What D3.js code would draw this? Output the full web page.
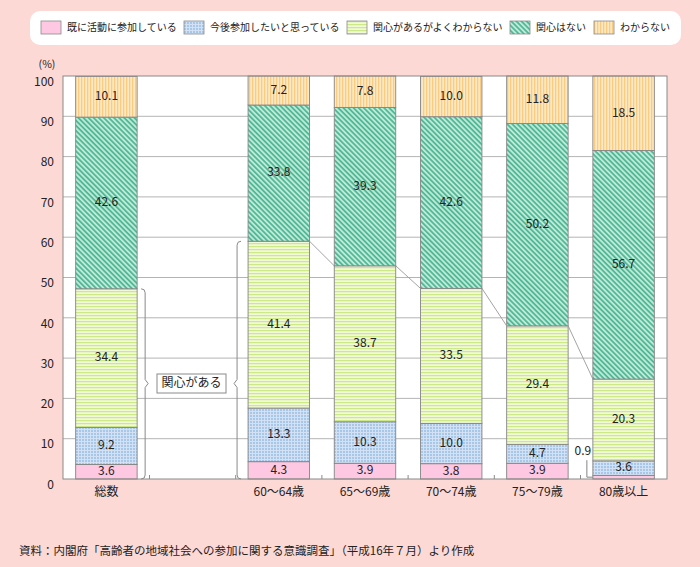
<!DOCTYPE html>
<html><head><meta charset="utf-8">
<script src="https://cdn.jsdelivr.net/npm/d3@7/dist/d3.min.js"></script>
<style>
html,body{margin:0;padding:0;background:#fdd9d6;}
svg{display:block;font-family:"Noto Sans CJK JP","Noto Sans",sans-serif;}
</style></head>
<body>
<svg id="chart" width="700" height="567"></svg>
<script>
// ---- data ----
const categories = ["総数", "60～64歳", "65～69歳", "70～74歳", "75～79歳", "80歳以上"];
const seriesNames = ["既に活動に参加している", "今後参加したいと思っている", "関心があるがよくわからない", "関心はない", "わからない"];
const sActive   = [3.6, 4.3, 3.9, 3.8, 3.9, 0.9];
const sWant     = [9.2, 13.3, 10.3, 10.0, 4.7, 3.6];
const sUnsure   = [34.4, 41.4, 38.7, 33.5, 29.4, 20.3];
const sNoInt    = [42.6, 33.8, 39.3, 42.6, 50.2, 56.7];
const sDontKnow = [10.1, 7.2, 7.8, 10.0, 11.8, 18.5];
const yTicks = [0, 10, 20, 30, 40, 50, 60, 70, 80, 90, 100];
const bracketLabel = "関心がある";
const sourceNote = "資料：内閣府「高齢者の地域社会への参加に関する意識調査」（平成16年７月）より作成";

const seriesValues = [sActive, sWant, sUnsure, sNoInt, sDontKnow];

const svg = d3.select("#chart");
const defs = svg.append("defs");

// patterns
function pat(id, w, h, bg, draw, transform) {
  const p = defs.append("pattern").attr("id", id).attr("patternUnits", "userSpaceOnUse")
    .attr("width", w).attr("height", h);
  if (transform) p.attr("patternTransform", transform);
  p.append("rect").attr("width", w).attr("height", h).attr("fill", bg);
  draw(p);
}
pat("pPink", 4, 4, "#ffc8e2", () => {});
pat("pBlue", 3, 3, "#d2e2f4", p => {
  p.append("rect").attr("x", 1).attr("y", 1).attr("width", 2).attr("height", 2).attr("fill", "#a8c6e7");
});
pat("pGreen", 3, 3, "#f1f9d8", p => {
  p.append("rect").attr("x", 0).attr("y", 0).attr("width", 3).attr("height", 1.2).attr("fill", "#cde887");
});
pat("pTeal", 3.6, 3.6, "#c2e8da", p => {
  p.append("rect").attr("x", 0).attr("y", 0).attr("width", 1.8).attr("height", 3.6).attr("fill", "#4fba96");
}, "rotate(-45)");
pat("pOrange", 3, 3, "#ffe9c4", p => {
  p.append("rect").attr("x", 0).attr("y", 0).attr("width", 1.3).attr("height", 3).attr("fill", "#fbcb82");
});
const fills = ["url(#pPink)", "url(#pBlue)", "url(#pGreen)", "url(#pTeal)", "url(#pOrange)"];

// ---- legend ----
const lg = svg.append("g");
lg.append("rect").attr("x", 30).attr("y", 11).attr("width", 651).attr("height", 34)
  .attr("rx", 10).attr("fill", "#fff");
const legendX = [41, 184, 347, 510, 594];
seriesNames.forEach((n, i) => {
  const lx = legendX[i];
  lg.append("rect").attr("x", lx).attr("y", 21).attr("width", 20).attr("height", 13)
    .attr("fill", fills[i]).attr("stroke", "#8a8a8a").attr("stroke-width", 0.8);
  lg.append("text").attr("x", lx + 26).attr("y", 28).attr("dominant-baseline", "middle")
    .attr("font-size", 10).attr("fill", "#222").text(n);
});

// ---- scales ----
const plot = {l: 63, r: 667, t: 76, b: 479};
const slots = [categories[0], "__gap__", ...categories.slice(1)];
const x = d3.scaleBand().domain(slots).range([plot.l, plot.r]).paddingInner(0.287).paddingOuter(0.147);
const y = d3.scaleLinear().domain([0, 100]).range([plot.b, plot.t]);
const bw = x.bandwidth();

// plot background
svg.append("rect").attr("x", plot.l).attr("y", plot.t).attr("width", plot.r - plot.l)
  .attr("height", plot.b - plot.t).attr("fill", "#fff");

// gridlines
svg.append("g").selectAll("line").data(yTicks.filter(v => v > 0 && v < 100)).join("line")
  .attr("x1", plot.l).attr("x2", plot.r).attr("y1", d => y(d)).attr("y2", d => y(d))
  .attr("stroke", "#b4b4b4").attr("stroke-width", 1);

// stack data
const rows = categories.map((c, i) => {
  const o = {cat: c};
  seriesNames.forEach((s, k) => o[s] = seriesValues[k][i]);
  return o;
});
const stack = d3.stack().keys(seriesNames)(rows);

// bars
stack.forEach((layer, k) => {
  svg.append("g").selectAll("rect").data(layer).join("rect")
    .attr("x", d => x(d.data.cat)).attr("width", bw)
    .attr("y", d => y(d[1])).attr("height", d => y(d[0]) - y(d[1]))
    .attr("fill", fills[k]).attr("stroke", "#858585").attr("stroke-width", 0.9);
});

// connector lines between age bars (top of 3rd series)
const cum3 = categories.map((c, i) => sActive[i] + sWant[i] + sUnsure[i]);
for (let i = 1; i < categories.length - 1; i++) {
  svg.append("line")
    .attr("x1", x(categories[i]) + bw).attr("y1", y(cum3[i]))
    .attr("x2", x(categories[i + 1])).attr("y2", y(cum3[i + 1]))
    .attr("stroke", "#999").attr("stroke-width", 0.9);
}

// value labels
stack.forEach((layer, k) => {
  layer.forEach(d => {
    const v = d[1] - d[0];
    const cx = x(d.data.cat) + bw / 2;
    if (v >= 2) {
      svg.append("text").attr("x", cx).attr("y", y((d[0] + d[1]) / 2))
        .attr("text-anchor", "middle").attr("dominant-baseline", "middle")
        .attr("font-size", 12).attr("fill", "#222").text(v.toFixed(1));
    } else {
      const bx = x(d.data.cat);
      const ym = y((d[0] + d[1]) / 2);
      svg.append("text").attr("x", bx - 10).attr("y", ym - 25)
        .attr("text-anchor", "middle").attr("dominant-baseline", "middle")
        .attr("font-size", 12).attr("fill", "#222").text(v.toFixed(1));
      svg.append("path").attr("d", `M${bx - 6},${ym - 17}V${ym}H${bx}`)
        .attr("fill", "none").attr("stroke", "#777").attr("stroke-width", 0.9);
    }
  });
});

// frame
svg.append("rect").attr("x", plot.l).attr("y", plot.t).attr("width", plot.r - plot.l)
  .attr("height", plot.b - plot.t).attr("fill", "none").attr("stroke", "#8a8a8a").attr("stroke-width", 1);

// x-axis small ticks at band boundaries
const step = x.step();
svg.append("g").selectAll("line").data(slots.slice(0, -1)).join("line")
  .attr("x1", d => x(d) + bw + (step - bw) / 2).attr("x2", d => x(d) + bw + (step - bw) / 2)
  .attr("y1", plot.b).attr("y2", plot.b - 4).attr("stroke", "#8a8a8a");

// y tick labels
svg.append("g").selectAll("text").data(yTicks).join("text")
  .attr("x", 54).attr("y", d => y(d) + 6.5).attr("text-anchor", "end")
  .attr("dominant-baseline", "middle").attr("font-size", 12).attr("fill", "#222").text(d => d);
svg.append("text").attr("x", 47).attr("y", 65.5).attr("text-anchor", "middle")
  .attr("dominant-baseline", "middle").attr("font-size", 10.5).attr("fill", "#222").text("(%)");

// x labels
svg.append("g").selectAll("text").data(categories).join("text")
  .attr("x", d => x(d) + bw / 2).attr("y", 493).attr("text-anchor", "middle")
  .attr("dominant-baseline", "middle").attr("font-size", 12).attr("fill", "#222").text(d => d);

// brackets and label
const labY = 383.5;
const bxL = x(categories[0]) + bw + 8;
const topL = y(cum3[0]);
svg.append("path")
  .attr("d", `M${bxL - 4},${topL}Q${bxL},${topL} ${bxL},${topL + 4}V${labY - 4}L${bxL + 3},${labY}L${bxL},${labY + 4}V${plot.b - 4}Q${bxL},${plot.b} ${bxL - 4},${plot.b}`)
  .attr("fill", "none").attr("stroke", "#8a8a8a").attr("stroke-width", 1);
const bxR = x(categories[1]) - 11;
const topR = y(cum3[1]);
svg.append("path")
  .attr("d", `M${bxR + 4},${topR}Q${bxR},${topR} ${bxR},${topR + 4}V${labY - 4}L${bxR - 3},${labY}L${bxR},${labY + 4}V${plot.b - 4}Q${bxR},${plot.b} ${bxR + 4},${plot.b}`)
  .attr("fill", "none").attr("stroke", "#8a8a8a").attr("stroke-width", 1);
svg.append("rect").attr("x", 157).attr("y", labY - 9.5).attr("width", 69).attr("height", 19)
  .attr("fill", "#fff").attr("stroke", "#8a8a8a").attr("stroke-width", 1);
svg.append("text").attr("x", 191.5).attr("y", labY).attr("text-anchor", "middle")
  .attr("dominant-baseline", "middle").attr("font-size", 12).attr("fill", "#222").text(bracketLabel);

// source note
svg.append("text").attr("x", 19).attr("y", 552).attr("dominant-baseline", "middle")
  .attr("font-size", 11.5).attr("fill", "#222").text(sourceNote);
</script>
</body></html>
